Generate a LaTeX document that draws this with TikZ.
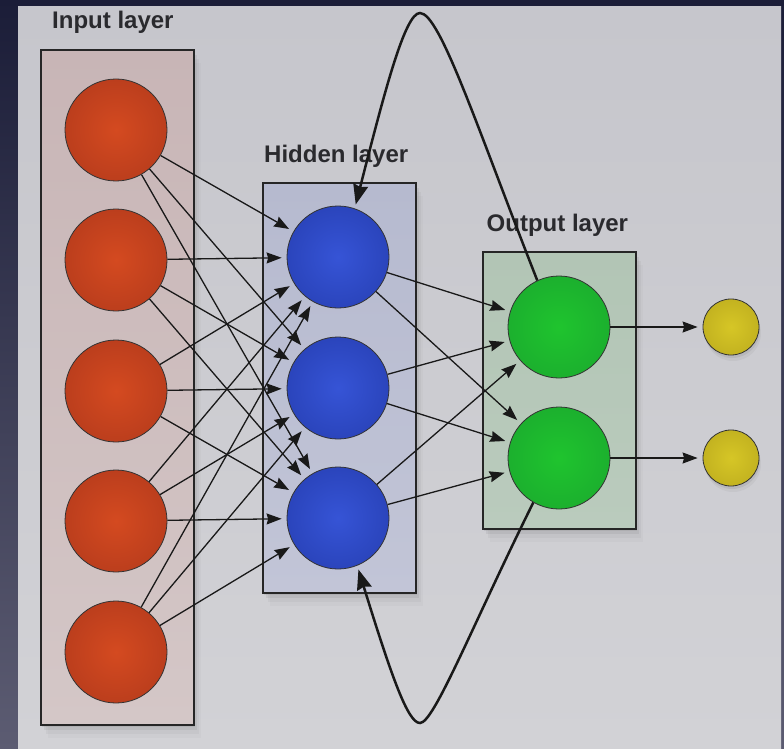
\documentclass[tikz,border=0pt]{standalone}
\usepackage{fontspec}
\setmainfont{Liberation Sans}
\usetikzlibrary{arrows.meta,shadows}

\definecolor{navytop}{HTML}{1B1D38}
\definecolor{navybot}{HTML}{5C5C72}
\definecolor{paneltop}{HTML}{C6C6CC}
\definecolor{panelbot}{HTML}{D2D2D6}
\definecolor{inboxtop}{HTML}{C8B5B6}
\definecolor{inboxbot}{HTML}{D4C7C7}
\definecolor{hidboxtop}{HTML}{B6BACF}
\definecolor{hidboxbot}{HTML}{C2C5D7}
\definecolor{outboxtop}{HTML}{B2C5B5}
\definecolor{outboxbot}{HTML}{BACBBD}
\definecolor{redc}{HTML}{D44A20}
\definecolor{rede}{HTML}{A3321A}
\definecolor{bluec}{HTML}{3654D6}
\definecolor{bluee}{HTML}{1F35A2}
\definecolor{greenc}{HTML}{1FC42E}
\definecolor{greene}{HTML}{189C2F}
\definecolor{yelc}{HTML}{D6C626}
\definecolor{yele}{HTML}{B09F1A}
\definecolor{lbltext}{HTML}{2A2A2E}

\pgfdeclareradialshading{redball}{\pgfpoint{0bp}{0bp}}{color(0bp)=(redc); color(50bp)=(rede)}
\pgfdeclareradialshading{blueball}{\pgfpoint{0bp}{0bp}}{color(0bp)=(bluec); color(50bp)=(bluee)}
\pgfdeclareradialshading{greenball}{\pgfpoint{0bp}{0bp}}{color(0bp)=(greenc); color(50bp)=(greene)}
\pgfdeclareradialshading{yelball}{\pgfpoint{0bp}{0bp}}{color(0bp)=(yelc); color(50bp)=(yele)}

\tikzset{
  layerbox/.style={draw=black!85, line width=1.2pt, inner sep=0pt,
    drop shadow={shadow xshift=1pt, shadow yshift=-2pt, opacity=.18},
    drop shadow={shadow xshift=3pt, shadow yshift=-5pt, opacity=.14},
    drop shadow={shadow xshift=5pt, shadow yshift=-9pt, opacity=.09},
    drop shadow={shadow xshift=7pt, shadow yshift=-13pt, opacity=.05}},
  neuron/.style={circle, draw=black!80, line width=0.8pt, inner sep=0pt, minimum size=102pt},
  inneuron/.style={neuron, shading=redball},
  hidneuron/.style={neuron, shading=blueball},
  outneuron/.style={neuron, shading=greenball},
  yelneuron/.style={circle, draw=black!80, line width=0.8pt, inner sep=0pt, minimum size=56pt,
    shading=yelball,
    drop shadow={shadow xshift=1pt, shadow yshift=-3pt, opacity=.18},
    drop shadow={shadow xshift=2pt, shadow yshift=-6pt, opacity=.10}},
  lbl/.style={inner sep=0pt, anchor=base west, text=lbltext,
    font=\bfseries\fontsize{24}{28}\selectfont},
  conn/.style={draw=black!90, line width=1.3pt,
    -{Stealth[length=15pt, width=11pt, inset=1.5pt]}, shorten >=5pt},
  loopconn/.style={draw=black!90, line width=2.5pt,
    -{Stealth[length=20pt, width=15pt, inset=2pt]}, shorten >=4pt}
}

\begin{document}
\begin{tikzpicture}[x=1pt, y=-1pt]
\useasboundingbox (0,0) rectangle (784,749);
% surroundings and panel
\fill[top color=navytop, bottom color=navybot] (0,0) rectangle (784,749);
\fill[top color=paneltop, bottom color=panelbot] (18,7) rectangle (781,749);

% layer boxes
\node[layerbox, top color=inboxtop, bottom color=inboxbot,
  minimum width=153pt, minimum height=675pt] (inbox) at (117.5,387.5) {};
\node[layerbox, top color=hidboxtop, bottom color=hidboxbot,
  minimum width=153pt, minimum height=410pt] (hidbox) at (339.5,388) {};
\node[layerbox, top color=outboxtop, bottom color=outboxbot,
  minimum width=153pt, minimum height=277pt] (outbox) at (559.5,390.5) {};

% labels
\node[lbl] (inlbl) at (52,29) {Input layer};
\node[lbl] (hidlbl) at (264,162) {Hidden layer};
\node[lbl] (outlbl) at (486.5,231) {Output layer};

% neurons
\node[inneuron] (in1) at (116,130) {};
\node[inneuron] (in2) at (116,260) {};
\node[inneuron] (in3) at (116,391) {};
\node[inneuron] (in4) at (116,521) {};
\node[inneuron] (in5) at (116,652) {};
\node[hidneuron] (hid1) at (338,257) {};
\node[hidneuron] (hid2) at (338,388) {};
\node[hidneuron] (hid3) at (338,518) {};
\node[outneuron] (out1) at (559,327) {};
\node[outneuron] (out2) at (559,458) {};
\node[yelneuron] (res1) at (731,327) {};
\node[yelneuron] (res2) at (731,458) {};

% connections
\foreach \i in {1,...,5} {
  \foreach \j in {1,2,3} {
    \draw[conn] (in\i) -- (hid\j);
  }
}
\foreach \j in {1,2,3} {
  \foreach \k in {1,2} {
    \draw[conn] (hid\j) -- (out\k);
  }
}
\draw[conn] (out1) -- (res1);
\draw[conn] (out2) -- (res2);

% recurrent loops
\coordinate (toppeak) at (420,13);
\coordinate (botpeak) at (420,723);
\draw[loopconn] (out1.115) .. controls (478,130) and (440,13) .. (toppeak)
  .. controls (405,13) and (385,90) .. (hid1.71);
\draw[loopconn] (out2.-120) .. controls (472,626) and (434,723) .. (botpeak)
  .. controls (408,723) and (392,678) .. (hid3.-68);
\end{tikzpicture}
\end{document}
